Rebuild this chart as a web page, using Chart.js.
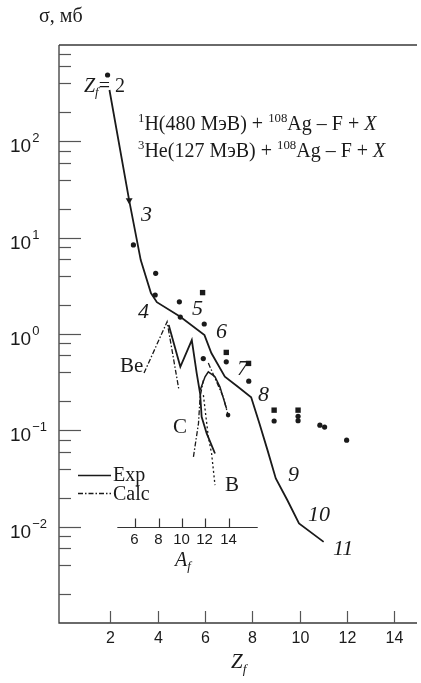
<!DOCTYPE html>
<html><head><meta charset="utf-8">
<script src="https://cdn.jsdelivr.net/npm/chart.js@4"></script>
<style>html,body{margin:0;padding:0;background:#fff}#wrap{width:421px;height:683px}</style>
</head><body><div id="wrap"><canvas id="c" width="421" height="683"></canvas></div>
<script>
// ---- data ----
const zExp = [1.97, 2.80, 3.29, 3.72, 3.97, 4.96, 5.98, 6.27, 6.84, 7.39, 7.95, 8.30, 8.64, 8.99, 9.48, 9.97, 11.01];
const sigmaExp = [341, 24.5, 5.85, 2.66, 2.14, 1.51, 0.975, 0.634, 0.360, 0.283, 0.220, 0.118, 0.0623, 0.0317, 0.0188, 0.0108, 0.00695];
const zDots = [1.89, 2.98, 3.92, 3.90, 4.92, 4.96, 5.97, 5.93, 6.90, 7.85, 8.92, 9.93, 9.93, 10.85, 11.05, 11.98];
const sigmaDots = [488, 8.4, 4.26, 2.54, 2.16, 1.50, 1.27, 0.556, 0.514, 0.324, 0.125, 0.126, 0.140, 0.113, 0.108, 0.079];
const zSquares = [5.90, 6.90, 7.84, 8.92, 9.93];
const sigmaSquares = [2.69, 0.644, 0.495, 0.162, 0.162];
const zTriangles = [2.80];
const sigmaTriangles = [24.5];
// isotope curves on the A_f axis
const aBeCalc = [6.76, 8.73, 9.72];
const sBeCalc = [0.393, 1.34, 0.272];
const aIsoExp = [8.87, 9.86, 10.84, 11.26, 11.55, 11.68, 12.11, 12.82];
const sIsoExp = [1.24, 0.456, 0.865, 0.390, 0.241, 0.138, 0.0929, 0.0575];
const aArchExp = [11.55, 11.97, 12.25, 12.82, 13.24, 13.80];
const sArchExp = [0.261, 0.360, 0.405, 0.360, 0.283, 0.169];
const aCCalc = [10.98, 11.41, 11.55, 11.83];
const sCCalc = [0.0531, 0.118, 0.223, 0.332];
const aBCalc = [11.83, 12.25, 12.53, 12.82];
const sBCalc = [0.232, 0.0857, 0.0575, 0.027];
const aB2Calc = [12.25, 13.52, 13.94];
const sB2Calc = [0.499, 0.223, 0.144];
const aIsoDots = [13.94];
const sIsoDots = [0.144];
// ticks
const zTicks = [2, 4, 6, 8, 10, 12, 14];
const aTicks = [6, 8, 10, 12, 14];
const yDecades = [-2, -1, 0, 1, 2];
const zLabels = ['3','4','5','6','7','8','9','10','11'];

const pts = (xs, ys) => xs.map((x, i) => ({x: x, y: ys[i]}));
const INK = '#1a1a1a';
const SERIF = '"Liberation Serif", "Times New Roman", serif';
const SANS = '"Liberation Sans", Arial, sans-serif';
const DASHDOT = [5, 2, 1.5, 2];

function rich(ctx, segs, x, y, size) {
  let cx = x;
  for (const s of segs) {
    let fs = size, dy = 0;
    if (s.sup) { fs = size * 0.64; dy = -size * 0.38; }
    if (s.sub) { fs = size * 0.64; dy = size * 0.22; }
    ctx.font = (s.it ? 'italic ' : '') + fs + 'px ' + (s.sans ? SANS : SERIF);
    ctx.fillText(s.t, cx, y + dy);
    cx += ctx.measureText(s.t).width;
  }
  return cx;
}

const decor = {
  id: 'decor',
  afterDraw(chart) {
    const ctx = chart.ctx, xs = chart.scales.x, ys = chart.scales.y, xa = chart.scales.xA;
    const ca = chart.chartArea;
    ctx.save();
    ctx.fillStyle = INK; ctx.strokeStyle = '#3a3a3a'; ctx.textBaseline = 'alphabetic';
    // frame: left axis, bottom axis, top line
    ctx.lineWidth = 1.3;
    ctx.beginPath();
    ctx.moveTo(ca.left, ca.top); ctx.lineTo(ca.right, ca.top);
    ctx.moveTo(ca.left, ca.top); ctx.lineTo(ca.left, ca.bottom); ctx.lineTo(ca.right, ca.bottom);
    ctx.stroke();
    // y ticks
    ctx.lineWidth = 1.2; ctx.strokeStyle = '#555';
    for (let d = -3; d <= 2; d++) {
      for (const m of [1, 2, 4, 6, 8]) {
        const v = m * Math.pow(10, d);
        if (v <= 1e-3 || v >= 1e3) continue;
        const py = Math.round(ys.getPixelForValue(v)) + 0.5;
        const len = m === 1 ? 22 : 12;
        ctx.beginPath(); ctx.moveTo(ca.left, py); ctx.lineTo(ca.left + len, py); ctx.stroke();
      }
    }
    // y labels
    for (const d of yDecades) {
      const py = ys.getPixelForValue(Math.pow(10, d));
      ctx.textAlign = 'left';
      ctx.font = '19px ' + SANS;
      ctx.fillText('10', 10, py + 11);
      const w = ctx.measureText('10').width;
      ctx.font = '13px ' + SANS;
      ctx.fillText(d < 0 ? '\u2212' + (-d) : String(d), 10 + w + 1, py + 1);
    }
    // x ticks + labels
    ctx.textAlign = 'center';
    ctx.font = '16px ' + SANS;
    for (const t of zTicks) {
      const px = Math.round(xs.getPixelForValue(t)) + 0.5;
      ctx.beginPath(); ctx.moveTo(px, ca.bottom); ctx.lineTo(px, ca.bottom - 12); ctx.stroke();
      ctx.fillText(String(t), px, 643);
    }
    // inset A_f axis
    const iy = Math.round(ys.getPixelForValue(0.01)) + 0.5;
    ctx.strokeStyle = '#333'; ctx.lineWidth = 1.2;
    ctx.beginPath(); ctx.moveTo(xa.getPixelForValue(4.48), iy); ctx.lineTo(xa.getPixelForValue(16.47), iy); ctx.stroke();
    ctx.font = '15px ' + SANS;
    for (const t of aTicks) {
      const px = Math.round(xa.getPixelForValue(t)) + 0.5;
      ctx.beginPath(); ctx.moveTo(px, iy); ctx.lineTo(px, iy - 9); ctx.stroke();
      ctx.fillText(String(t), px - 1, 544);
    }
    ctx.textAlign = 'left';
    rich(ctx, [{t: 'A', it: 1}, {t: 'f', it: 1, sub: 1}], 175, 566, 20);
    // axis titles
    rich(ctx, [{t: '\u03C3, \u043C\u0431'}], 39, 22, 20);
    rich(ctx, [{t: 'Z', it: 1}, {t: 'f', it: 1, sub: 1}], 231, 668, 21);
    // annotations
    rich(ctx, [{t: 'Z', it: 1}, {t: 'f', it: 1, sub: 1}, {t: '= 2'}], 84, 92, 20);
    rich(ctx, [{t: '1', sup: 1}, {t: 'H(480 \u041C\u044D\u0412) + '}, {t: '108', sup: 1}, {t: 'Ag \u2013 F + '}, {t: 'X', it: 1}], 138, 130, 20);
    rich(ctx, [{t: '3', sup: 1}, {t: 'He(127 \u041C\u044D\u0412) + '}, {t: '108', sup: 1}, {t: 'Ag \u2013 F + '}, {t: 'X', it: 1}], 138, 157, 20);
    const numPos = [[141, 221], [138, 318], [192, 315], [216, 338], [237, 375], [258, 401], [288, 481], [308, 521], [333, 555]];
    zLabels.forEach((s, i) => rich(ctx, [{t: s, it: 1}], numPos[i][0], numPos[i][1], 22));
    rich(ctx, [{t: 'Be'}], 120, 372, 21);
    rich(ctx, [{t: 'C'}], 173, 433, 21);
    rich(ctx, [{t: 'B'}], 225, 491, 21);
    // legend
    ctx.strokeStyle = INK; ctx.lineWidth = 1.4;
    ctx.beginPath(); ctx.moveTo(78, 475.5); ctx.lineTo(111, 475.5); ctx.stroke();
    ctx.setLineDash(DASHDOT);
    ctx.beginPath(); ctx.moveTo(78, 493.5); ctx.lineTo(111, 493.5); ctx.stroke();
    ctx.setLineDash([]);
    rich(ctx, [{t: 'Exp'}], 113, 481, 20);
    rich(ctx, [{t: 'Calc'}], 113, 500, 20);
    ctx.restore();
  }
};

const lineDs = (data, xAxis, dash, w) => ({
  type: 'line', data: data, xAxisID: xAxis, yAxisID: 'y', borderColor: INK, backgroundColor: INK,
  borderWidth: w, borderDash: dash, pointRadius: 0, fill: false, tension: 0
});
const markDs = (data, xAxis, style, r, rot) => ({
  type: 'scatter', data: data, xAxisID: xAxis, yAxisID: 'y', showLine: false,
  pointStyle: style, pointRadius: r, pointRotation: rot || 0,
  pointBackgroundColor: INK, pointBorderColor: INK, pointBorderWidth: 0
});

new Chart(document.getElementById('c').getContext('2d'), {
  type: 'scatter',
  data: { datasets: [
    lineDs(pts(zExp, sigmaExp), 'x', [], 1.8),
    lineDs(pts(aBeCalc, sBeCalc), 'xA', DASHDOT, 1.3),
    lineDs(pts(aIsoExp, sIsoExp), 'xA', [], 1.8),
    lineDs(pts(aArchExp, sArchExp), 'xA', [], 1.5),
    lineDs(pts(aCCalc, sCCalc), 'xA', DASHDOT, 1.3),
    lineDs(pts(aBCalc, sBCalc), 'xA', [2, 2.5], 1.3),
    lineDs(pts(aB2Calc, sB2Calc), 'xA', DASHDOT, 1.3),
    markDs(pts(zDots, sigmaDots), 'x', 'circle', 2.6),
    markDs(pts(zSquares, sigmaSquares), 'x', 'rect', 3.8),
    markDs(pts(zTriangles, sigmaTriangles), 'x', 'triangle', 4, 180),
    markDs(pts(aIsoDots, sIsoDots), 'xA', 'circle', 2.3)
  ]},
  options: {
    responsive: false, animation: false, devicePixelRatio: 1,
    layout: { padding: { left: 59, top: 45, right: 0, bottom: 60 } },
    plugins: { legend: { display: false }, tooltip: { enabled: false } },
    scales: {
      x: { type: 'linear', min: -0.16, max: 14.95, display: false },
      xA: { type: 'linear', min: -0.50, max: 30.07, display: false },
      y: { type: 'logarithmic', min: 1e-3, max: 1e3, display: false }
    }
  },
  plugins: [decor]
});
</script></body></html>
